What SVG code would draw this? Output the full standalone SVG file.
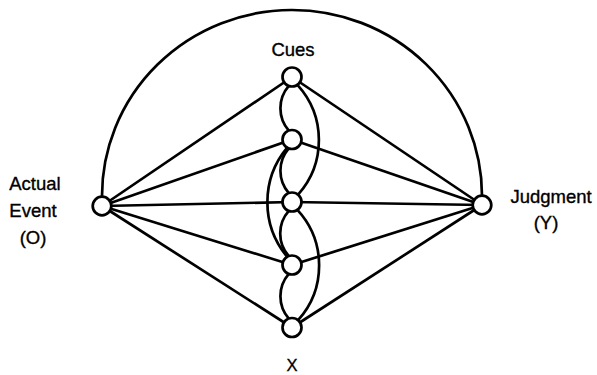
<svg xmlns="http://www.w3.org/2000/svg" width="597" height="375" viewBox="0 0 597 375">
<style>
.edge{fill:none;stroke:#000;stroke-width:2.7}
.node{fill:#fff;stroke:#000;stroke-width:2.7}
.lbl{font-family:"Liberation Sans",Arial,sans-serif;font-size:18.5px;fill:#000;stroke:#000;stroke-width:0.35;text-anchor:middle}
</style>
<g id="connectors">
<path class="edge" d="M102 196.5 A190 186 0 0 1 482 195.5"/>
<line class="edge" x1="102" y1="206" x2="292" y2="77"/>
<line class="edge" x1="102" y1="206" x2="292" y2="139.5"/>
<line class="edge" x1="102" y1="206" x2="292" y2="202"/>
<line class="edge" x1="102" y1="206" x2="292" y2="265"/>
<line class="edge" x1="102" y1="206" x2="292" y2="327.5"/>
<line class="edge" x1="482" y1="205" x2="292" y2="77"/>
<line class="edge" x1="482" y1="205" x2="292" y2="139.5"/>
<line class="edge" x1="482" y1="205" x2="292" y2="202"/>
<line class="edge" x1="482" y1="205" x2="292" y2="265"/>
<line class="edge" x1="482" y1="205" x2="292" y2="327.5"/>
<path class="edge" d="M288.8 85.9 A34 34 0 0 0 288.8 130.6"/>
<path class="edge" d="M288.8 148.4 A34 34 0 0 0 288.8 193.1"/>
<path class="edge" d="M288.8 210.9 A34 34 0 0 0 288.8 256.1"/>
<path class="edge" d="M288.8 273.9 A34 34 0 0 0 288.8 318.6"/>
<path class="edge" d="M297.4 84.8 A82 82 0 0 1 298.1 194.7"/>
<path class="edge" d="M297.4 209.8 A82 82 0 0 1 298.1 320.2"/>
<path class="edge" d="M287.2 147.7 A85 85 0 0 0 287.2 256.8"/>
</g>
<g id="node-O"><circle class="node" cx="102" cy="206" r="9.3"/>
<text class="lbl" x="35" y="190">Actual</text><text class="lbl" x="33" y="217">Event</text><text class="lbl" x="33" y="244">(O)</text></g>
<g id="node-Y"><circle class="node" cx="482" cy="205" r="9.3"/>
<text class="lbl" x="551" y="203">Judgment</text><text class="lbl" x="546" y="229">(Y)</text></g>
<g id="cue-1"><circle class="node" cx="292" cy="77" r="9.5"/><text class="lbl" x="293" y="55.5">Cues</text></g>
<g id="cue-2"><circle class="node" cx="292" cy="139.5" r="9.5"/></g>
<g id="cue-3"><circle class="node" cx="292" cy="202" r="9.5"/></g>
<g id="cue-4"><circle class="node" cx="292" cy="265" r="9.5"/></g>
<g id="cue-5"><circle class="node" cx="292" cy="327.5" r="9.5"/><text class="lbl" x="292" y="371" style="font-size:16.5px">X</text></g>
</svg>
